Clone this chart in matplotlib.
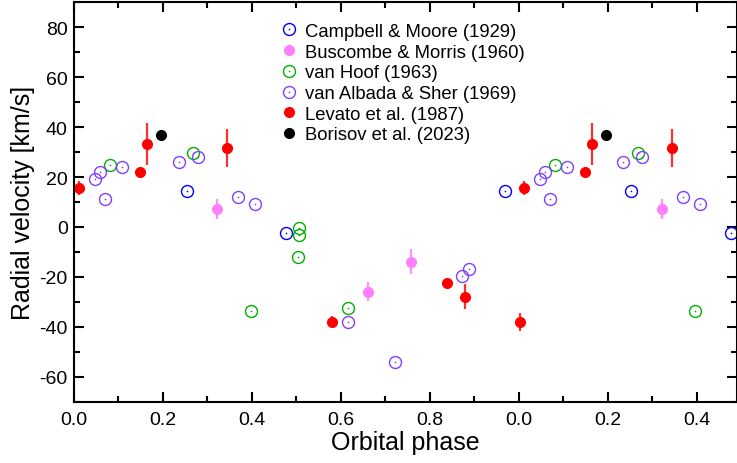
import matplotlib
matplotlib.use("Agg")
import matplotlib.pyplot as plt
import matplotlib.ticker as ticker
import numpy as np
from matplotlib.legend_handler import HandlerTuple

plt.rcParams['font.family'] = ['Liberation Sans', 'DejaVu Sans']

# Campbell & Moore (1929)
cm_phase = [0.253, 0.476, 0.969]
cm_rv = [14.6, -2.4, 14.6]

# Buscombe & Morris (1960)
bm_phase = [0.321, 0.661, 0.757]
bm_rv = [7.2, -25.9, -13.9]
bm_err = [4.1, 3.9, 4.9]

# van Hoof (1963)
vh_phase = [0.082, 0.268, 0.397, 0.505, 0.506, 0.504, 0.615]
vh_rv = [24.9, 29.8, -33.6, -0.4, -3.4, -11.9, -32.3]

# van Albada & Sher (1969)
vas_phase = [0.048, 0.059, 0.070, 0.109, 0.235, 0.278, 0.369, 0.407,
             0.615, 0.722, 0.872, 0.887]
vas_rv = [19.2, 22.1, 11.2, 24.2, 26.1, 28.0, 12.1, 9.2,
          -37.9, -54.0, -19.7, -16.8]

# Levato et al. (1987)
lev_phase = [0.011, 0.148, 0.164, 0.345, 0.581, 0.839, 0.879, 1.003]
lev_rv = [15.6, 22.1, 33.3, 31.7, -37.9, -22.5, -27.9, -38.0]
lev_err = [2.8, 1.5, 8.3, 7.5, 2.4, 1.5, 5.0, 3.7]

# Borisov et al. (2023)
bor_phase = [0.195]
bor_rv = [37.0]

fig = plt.figure(figsize=(7.37, 4.64), dpi=100)
ax = fig.add_axes([74 / 737, 61.3 / 464, 663 / 737, 399.4 / 464])


def ph2(x):
    # phases repeated one cycle later
    x = np.asarray(x)
    return np.concatenate([x, x + 1])


def val2(v):
    v = np.asarray(v)
    return np.concatenate([v, v])


def open_pts(ph, rv, color, label):
    h1, = ax.plot(ph2(ph), val2(rv), 'o', ms=8.6, mfc='none', mec=color, mew=1.0, ls='none')
    h2, = ax.plot(ph2(ph), val2(rv), 'o', ms=1.2, mfc=color, mec='none', ls='none')
    return (h1, h2), label


def filled_pts(ph, rv, err, color, ecolor, label):
    if err is not None:
        ax.errorbar(ph2(ph), val2(rv), yerr=val2(err), fmt='none', ecolor=ecolor, elinewidth=1.6, capsize=0)
    h, = ax.plot(ph2(ph), val2(rv), 'o', ms=8.0, mfc=color, mec='none', ls='none')
    return h, label


handles = []
handles.append(open_pts(cm_phase, cm_rv, '#0000ff', 'Campbell & Moore (1929)'))
handles.append(filled_pts(bm_phase, bm_rv, bm_err, '#ff80ff', '#ff90ff', 'Buscombe & Morris (1960)'))
handles.append(open_pts(vh_phase, vh_rv, '#00b000', 'van Hoof (1963)'))
handles.append(open_pts(vas_phase, vas_rv, '#8040ff', 'van Albada & Sher (1969)'))
handles.append(filled_pts(lev_phase, lev_rv, lev_err, '#ff0000', '#ff3030', 'Levato et al. (1987)'))
handles.append(filled_pts(bor_phase, bor_rv, None, '#000000', '#000000', 'Borisov et al. (2023)'))

ax.set_xlim(0, 1.4906)
ax.set_ylim(-70, 90)

ax.xaxis.set_major_locator(ticker.MultipleLocator(0.2))
ax.xaxis.set_minor_locator(ticker.MultipleLocator(0.1))
ax.xaxis.set_major_formatter(ticker.FuncFormatter(lambda x, _: f"{x % 1.0 + 1e-9:.1f}"))
ax.yaxis.set_major_locator(ticker.MultipleLocator(20))
ax.yaxis.set_minor_locator(ticker.MultipleLocator(10))
ax.yaxis.set_major_formatter(ticker.FuncFormatter(lambda y, _: f"{int(y)}"))

ax.tick_params(which='both', direction='in', top=True, right=True, width=1.5, labelsize=14)
ax.tick_params(axis='x', pad=7)
ax.tick_params(axis='y', pad=4.5)
ax.tick_params(which='major', length=7)
ax.tick_params(which='minor', length=4)
for s in ax.spines.values():
    s.set_linewidth(1.5)

ax.set_xlabel('Orbital phase', fontsize=18, labelpad=1)
ax.set_ylabel('Radial velocity [km/s]', fontsize=18, labelpad=3)

ax.legend([h for h, _ in handles], [l for _, l in handles],
          handler_map={tuple: HandlerTuple(ndivide=1)},
          loc='upper left', bbox_to_anchor=(0.285, 0.99), frameon=False,
          fontsize=13.3, handlelength=1.0, handletextpad=0.35, labelspacing=0.2,
          borderaxespad=0.5)

fig.savefig('out.png', dpi=100)
